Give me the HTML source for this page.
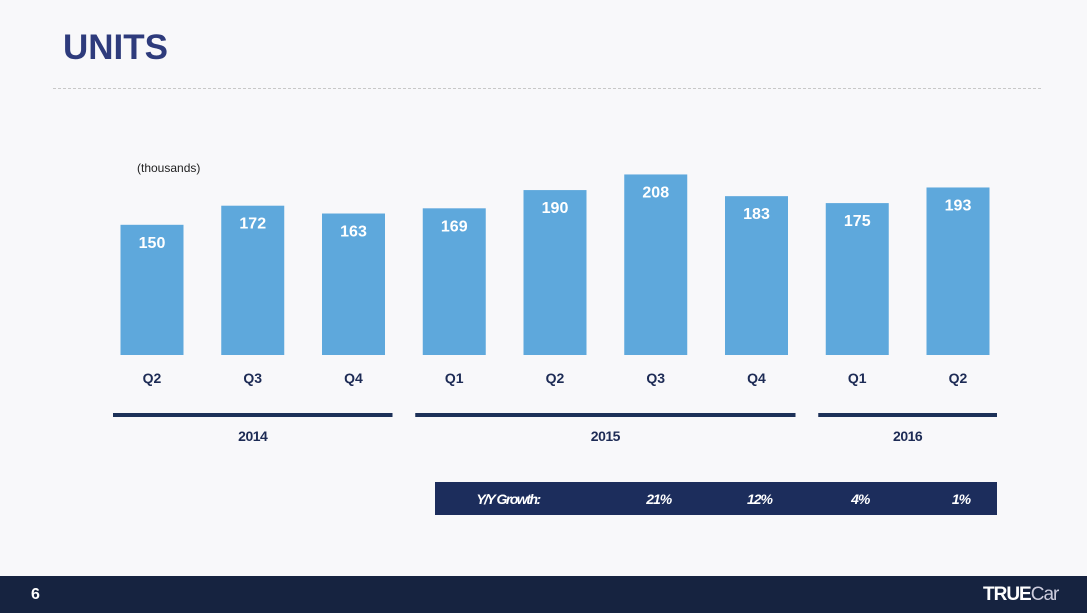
<!DOCTYPE html>
<html><head><meta charset="utf-8"><style>
body{margin:0;width:1087px;height:613px;background:#f8f8fa;font-family:"Liberation Sans",sans-serif;overflow:hidden;position:relative}
.t{position:absolute;white-space:nowrap}
</style></head><body>
<div class="t" style="left:63px;top:28px;font-size:35px;font-weight:bold;color:#2e3b7c">UNITS</div>
<div style="position:absolute;left:53px;top:88px;width:988px;border-top:1px dashed #c8c8c8"></div>
<div class="t" style="left:137px;top:161px;font-size:12px;color:#222">(thousands)</div>
<svg id="chart" width="1087" height="613" style="position:absolute;left:0;top:0"></svg>
<div style="position:absolute;left:0;top:576px;width:1087px;height:37px;background:#162340"></div>
<div class="t" style="left:31px;top:586px;font-size:16px;font-weight:bold;color:#fff">6</div>
<div class="t" style="left:983px;top:584px;font-size:19px;color:#fff;letter-spacing:-1px"><b>TRUE</b><span style="color:#ccd">Car</span></div>
<script>
const categories=["Q2","Q3","Q4","Q1","Q2","Q3","Q4","Q1","Q2"];
const units=[150,172,163,169,190,208,183,175,193];
const years=["2014","2015","2016"];
const yearSpans=[[0,2],[3,6],[7,8]];
const growthLabels=["21%","12%","4%","1%"];
const svg=document.getElementById('chart');
const NS='http://www.w3.org/2000/svg';
const baseY=355,scale=0.868,x0=152,step=100.75,bw=63;
const xC=i=>x0+i*step;
const yV=v=>baseY-v*scale;
function mk(tag,attrs,txt){const e=document.createElementNS(NS,tag);for(const k in attrs)e.setAttribute(k,attrs[k]);if(txt!==undefined)e.textContent=txt;svg.appendChild(e);return e;}
units.forEach((v,i)=>{
  const r=mk('rect',{x:xC(i)-bw/2,y:yV(v),width:bw,height:baseY-yV(v),fill:'#5ea8dc'});
  
  
  const t=mk('text',{x:xC(i),y:yV(v)+23,'text-anchor':'middle','font-size':16,'font-weight':'bold',fill:'#fff','font-family':'Liberation Sans'},v);
  
  
  const q=mk('text',{x:xC(i),y:383,'text-anchor':'middle','font-size':14,'font-weight':'bold',fill:'#1d2b55','font-family':'Liberation Sans'},categories[i]);
  
  
});
years.forEach((y,j)=>{
  const a=xC(yearSpans[j][0])-39,b=xC(yearSpans[j][1])+39;
  const l=mk('rect',{x:a,y:413,width:b-a,height:4,fill:'#1d3158'});
  
  
  const t=mk('text',{x:(a+b)/2,y:441,'text-anchor':'middle','font-size':14,'font-weight':'bold',fill:'#1d2b55','font-family':'Liberation Sans','letter-spacing':'-0.5'},y);
  
  
});
const box=mk('rect',{x:435,y:482,width:562,height:33,fill:'#1c2d5c'});


const gl=mk('text',{x:508,y:504,'text-anchor':'middle','font-size':14,'font-weight':'bold','font-style':'italic',fill:'#fff','font-family':'Liberation Sans','letter-spacing':'-1.5'},'Y/Y Growth:');


growthLabels.forEach((g,k)=>{
  const t=mk('text',{x:xC(5+k)+3,y:504,'text-anchor':'middle','font-size':14,'font-weight':'bold','font-style':'italic',fill:'#fff','font-family':'Liberation Sans','letter-spacing':'-1'},g);
  
  
});
</script>
</body></html>
